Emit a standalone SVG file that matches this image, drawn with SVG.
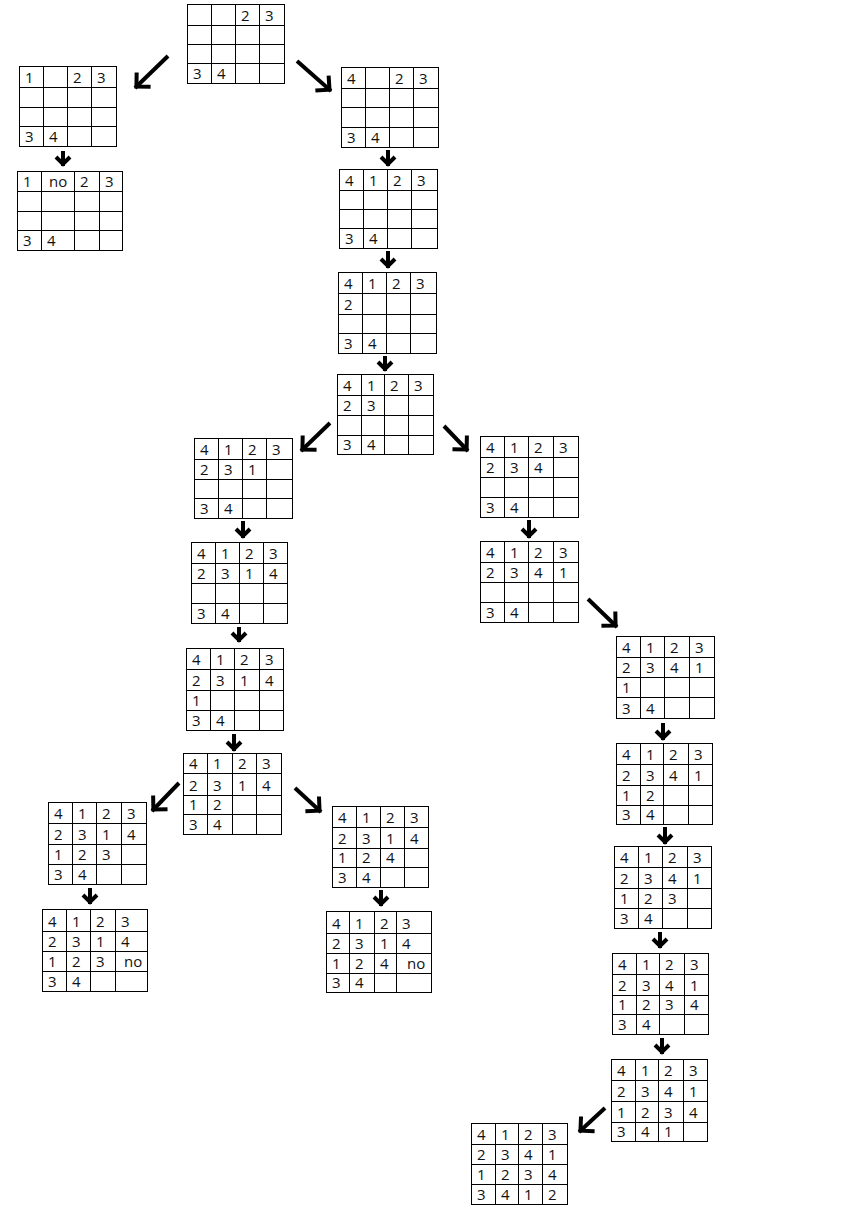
<svg xmlns="http://www.w3.org/2000/svg" width="844" height="1223" viewBox="0 0 844 1223">
<style>
.g rect,.g path{fill:none;stroke:#000;stroke-width:1;shape-rendering:crispEdges}
.g text{font-family:"Open Sans","DejaVu Sans",sans-serif;font-size:15px;fill:#111;transform:translateX(1px)}
.c line{stroke:#000;stroke-width:4}
</style>
<defs>
<marker id="hd" markerUnits="userSpaceOnUse" orient="auto" overflow="visible" refX="2" refY="0" markerWidth="24" markerHeight="24" viewBox="-14 -12 16 24">
<path d="M-10,-10 L0,0 L-10,10" fill="none" stroke="#000" stroke-width="4"/>
</marker>
<marker id="hs" markerUnits="userSpaceOnUse" orient="auto" overflow="visible" refX="2" refY="0" markerWidth="16" markerHeight="18" viewBox="-10 -9 12 18">
<path d="M-7,-7 L0,0 L-7,7" fill="none" stroke="#000" stroke-width="4"/>
</marker>
</defs>
<rect width="844" height="1223" fill="#fff"/>
<g id="connectors" class="c">
<line x1="168" y1="56" x2="135" y2="88" marker-end="url(#hd)"/>
<line x1="297" y1="61" x2="331" y2="91" marker-end="url(#hd)"/>
<line x1="63" y1="151" x2="63" y2="166" marker-end="url(#hs)"/>
<line x1="388" y1="150" x2="388" y2="166" marker-end="url(#hs)"/>
<line x1="388" y1="251" x2="388" y2="268" marker-end="url(#hs)"/>
<line x1="385" y1="356" x2="385" y2="371" marker-end="url(#hs)"/>
<line x1="330" y1="423" x2="301" y2="451" marker-end="url(#hd)"/>
<line x1="444" y1="426" x2="468" y2="451" marker-end="url(#hd)"/>
<line x1="243" y1="521" x2="243" y2="538" marker-end="url(#hs)"/>
<line x1="239" y1="627" x2="239" y2="642" marker-end="url(#hs)"/>
<line x1="234" y1="734" x2="234" y2="751" marker-end="url(#hs)"/>
<line x1="179" y1="783" x2="152" y2="811" marker-end="url(#hd)"/>
<line x1="295" y1="788" x2="321" y2="812" marker-end="url(#hd)"/>
<line x1="90" y1="888" x2="90" y2="904" marker-end="url(#hs)"/>
<line x1="381" y1="890" x2="381" y2="906" marker-end="url(#hs)"/>
<line x1="529" y1="520" x2="529" y2="538" marker-end="url(#hs)"/>
<line x1="588" y1="599" x2="617" y2="627" marker-end="url(#hd)"/>
<line x1="663" y1="723" x2="663" y2="740" marker-end="url(#hs)"/>
<line x1="665" y1="827" x2="665" y2="844" marker-end="url(#hs)"/>
<line x1="660" y1="932" x2="660" y2="948" marker-end="url(#hs)"/>
<line x1="662" y1="1038" x2="662" y2="1054" marker-end="url(#hs)"/>
<line x1="605" y1="1108" x2="579" y2="1132" marker-end="url(#hd)"/>
</g>

<g id="G0" class="g">
<rect x="187" y="4" width="97" height="79"/>
<path d="M211,4V83M235,4V83M259,4V83M187,25H284M187,44H284M187,63H284"/>
<text x="240" y="21">2</text><text x="264" y="21">3</text>
<text x="192" y="79">3</text><text x="216" y="79">4</text>
</g>

<g id="A1" class="g">
<rect x="19" y="66" width="97" height="80"/>
<path d="M43,66V146M67,66V146M91,66V146M19,87H116M19,107H116M19,126H116"/>
<text x="24" y="83">1</text><text x="72" y="83">2</text><text x="96" y="83">3</text>
<text x="24" y="142">3</text><text x="48" y="142">4</text>
</g>

<g id="A2" class="g">
<rect x="17" y="171" width="105" height="79"/>
<path d="M41,171V250M74,171V250M99,171V250M17,191H122M17,211H122M17,230H122"/>
<text x="22" y="187">1</text><text x="48" y="187">no</text><text x="79" y="187">2</text><text x="104" y="187">3</text>
<text x="22" y="246">3</text><text x="46" y="246">4</text>
</g>

<g id="B1" class="g">
<rect x="341" y="67" width="97" height="80"/>
<path d="M365,67V147M389,67V147M413,67V147M341,88H438M341,107H438M341,127H438"/>
<text x="346" y="84">4</text><text x="394" y="84">2</text><text x="418" y="84">3</text>
<text x="346" y="143">3</text><text x="370" y="143">4</text>
</g>

<g id="B2" class="g">
<rect x="339" y="169" width="98" height="79"/>
<path d="M363,169V248M387,169V248M411,169V248M339,190H437M339,209H437M339,228H437"/>
<text x="344" y="186">4</text><text x="368" y="186">1</text><text x="392" y="186">2</text><text x="416" y="186">3</text>
<text x="344" y="244">3</text><text x="368" y="244">4</text>
</g>

<g id="B3" class="g">
<rect x="338" y="272" width="98" height="81"/>
<path d="M362,272V353M386,272V353M410,272V353M338,293H436M338,314H436M338,333H436"/>
<text x="343" y="289">4</text><text x="367" y="289">1</text><text x="391" y="289">2</text><text x="415" y="289">3</text>
<text x="343" y="310">2</text>
<text x="343" y="349">3</text><text x="367" y="349">4</text>
</g>

<g id="B4" class="g">
<rect x="337" y="374" width="96" height="80"/>
<path d="M361,374V454M384,374V454M408,374V454M337,395H433M337,415H433M337,435H433"/>
<text x="342" y="391">4</text><text x="366" y="391">1</text><text x="389" y="391">2</text><text x="413" y="391">3</text>
<text x="342" y="411">2</text><text x="366" y="411">3</text>
<text x="342" y="450">3</text><text x="366" y="450">4</text>
</g>

<g id="C1" class="g">
<rect x="194" y="438" width="98" height="80"/>
<path d="M218,438V518M242,438V518M266,438V518M194,459H292M194,479H292M194,498H292"/>
<text x="199" y="455">4</text><text x="223" y="455">1</text><text x="247" y="455">2</text><text x="271" y="455">3</text>
<text x="199" y="475">2</text><text x="223" y="475">3</text><text x="247" y="475">1</text>
<text x="199" y="514">3</text><text x="223" y="514">4</text>
</g>

<g id="C2" class="g">
<rect x="191" y="542" width="96" height="81"/>
<path d="M215,542V623M239,542V623M263,542V623M191,563H287M191,583H287M191,603H287"/>
<text x="196" y="559">4</text><text x="220" y="559">1</text><text x="244" y="559">2</text><text x="268" y="559">3</text>
<text x="196" y="579">2</text><text x="220" y="579">3</text><text x="244" y="579">1</text><text x="268" y="579">4</text>
<text x="196" y="619">3</text><text x="220" y="619">4</text>
</g>

<g id="C3" class="g">
<rect x="186" y="648" width="97" height="82"/>
<path d="M210,648V730M234,648V730M259,648V730M186,669H283M186,690H283M186,710H283"/>
<text x="191" y="665">4</text><text x="215" y="665">1</text><text x="239" y="665">2</text><text x="264" y="665">3</text>
<text x="191" y="686">2</text><text x="215" y="686">3</text><text x="239" y="686">1</text><text x="264" y="686">4</text>
<text x="191" y="706">1</text>
<text x="191" y="726">3</text><text x="215" y="726">4</text>
</g>

<g id="C4" class="g">
<rect x="183" y="753" width="98" height="81"/>
<path d="M207,753V834M232,753V834M256,753V834M183,773H281M183,795H281M183,814H281"/>
<text x="188" y="769">4</text><text x="212" y="769">1</text><text x="237" y="769">2</text><text x="261" y="769">3</text>
<text x="188" y="791">2</text><text x="212" y="791">3</text><text x="237" y="791">1</text><text x="261" y="791">4</text>
<text x="188" y="810">1</text><text x="212" y="810">2</text>
<text x="188" y="830">3</text><text x="212" y="830">4</text>
</g>

<g id="C5" class="g">
<rect x="48" y="802" width="98" height="82"/>
<path d="M72,802V884M96,802V884M121,802V884M48,823H146M48,844H146M48,864H146"/>
<text x="53" y="819">4</text><text x="77" y="819">1</text><text x="101" y="819">2</text><text x="126" y="819">3</text>
<text x="53" y="840">2</text><text x="77" y="840">3</text><text x="101" y="840">1</text><text x="126" y="840">4</text>
<text x="53" y="860">1</text><text x="77" y="860">2</text><text x="101" y="860">3</text>
<text x="53" y="880">3</text><text x="77" y="880">4</text>
</g>

<g id="C6" class="g">
<rect x="42" y="909" width="105" height="82"/>
<path d="M66,909V991M90,909V991M115,909V991M42,931H147M42,951H147M42,971H147"/>
<text x="47" y="927">4</text><text x="71" y="927">1</text><text x="95" y="927">2</text><text x="120" y="927">3</text>
<text x="47" y="947">2</text><text x="71" y="947">3</text><text x="95" y="947">1</text><text x="120" y="947">4</text>
<text x="47" y="967">1</text><text x="71" y="967">2</text><text x="95" y="967">3</text><text x="123" y="967">no</text>
<text x="47" y="987">3</text><text x="71" y="987">4</text>
</g>

<g id="D1" class="g">
<rect x="332" y="806" width="96" height="81"/>
<path d="M356,806V887M380,806V887M404,806V887M332,827H428M332,848H428M332,867H428"/>
<text x="337" y="823">4</text><text x="361" y="823">1</text><text x="385" y="823">2</text><text x="409" y="823">3</text>
<text x="337" y="844">2</text><text x="361" y="844">3</text><text x="385" y="844">1</text><text x="409" y="844">4</text>
<text x="337" y="863">1</text><text x="361" y="863">2</text><text x="385" y="863">4</text>
<text x="337" y="883">3</text><text x="361" y="883">4</text>
</g>

<g id="D2" class="g">
<rect x="326" y="911" width="105" height="81"/>
<path d="M349,911V992M374,911V992M396,911V992M326,933H431M326,953H431M326,973H431"/>
<text x="331" y="929">4</text><text x="354" y="929">1</text><text x="379" y="929">2</text><text x="401" y="929">3</text>
<text x="331" y="949">2</text><text x="354" y="949">3</text><text x="379" y="949">1</text><text x="401" y="949">4</text>
<text x="331" y="969">1</text><text x="354" y="969">2</text><text x="379" y="969">4</text><text x="406" y="969">no</text>
<text x="331" y="988">3</text><text x="354" y="988">4</text>
</g>

<g id="E1" class="g">
<rect x="480" y="436" width="98" height="81"/>
<path d="M504,436V517M528,436V517M553,436V517M480,457H578M480,477H578M480,497H578"/>
<text x="485" y="453">4</text><text x="509" y="453">1</text><text x="533" y="453">2</text><text x="558" y="453">3</text>
<text x="485" y="473">2</text><text x="509" y="473">3</text><text x="533" y="473">4</text>
<text x="485" y="513">3</text><text x="509" y="513">4</text>
</g>

<g id="E2" class="g">
<rect x="480" y="541" width="98" height="81"/>
<path d="M504,541V622M528,541V622M553,541V622M480,562H578M480,582H578M480,602H578"/>
<text x="485" y="558">4</text><text x="509" y="558">1</text><text x="533" y="558">2</text><text x="558" y="558">3</text>
<text x="485" y="578">2</text><text x="509" y="578">3</text><text x="533" y="578">4</text><text x="558" y="578">1</text>
<text x="485" y="618">3</text><text x="509" y="618">4</text>
</g>

<g id="E3" class="g">
<rect x="616" y="636" width="98" height="82"/>
<path d="M640,636V718M664,636V718M689,636V718M616,657H714M616,677H714M616,697H714"/>
<text x="621" y="653">4</text><text x="645" y="653">1</text><text x="669" y="653">2</text><text x="694" y="653">3</text>
<text x="621" y="673">2</text><text x="645" y="673">3</text><text x="669" y="673">4</text><text x="694" y="673">1</text>
<text x="621" y="693">1</text>
<text x="621" y="714">3</text><text x="645" y="714">4</text>
</g>

<g id="E4" class="g">
<rect x="616" y="743" width="96" height="81"/>
<path d="M640,743V824M663,743V824M688,743V824M616,764H712M616,785H712M616,805H712"/>
<text x="621" y="760">4</text><text x="645" y="760">1</text><text x="668" y="760">2</text><text x="693" y="760">3</text>
<text x="621" y="781">2</text><text x="645" y="781">3</text><text x="668" y="781">4</text><text x="693" y="781">1</text>
<text x="621" y="801">1</text><text x="645" y="801">2</text>
<text x="621" y="820">3</text><text x="645" y="820">4</text>
</g>

<g id="E5" class="g">
<rect x="614" y="846" width="97" height="82"/>
<path d="M638,846V928M662,846V928M687,846V928M614,867H711M614,888H711M614,908H711"/>
<text x="619" y="863">4</text><text x="643" y="863">1</text><text x="667" y="863">2</text><text x="692" y="863">3</text>
<text x="619" y="884">2</text><text x="643" y="884">3</text><text x="667" y="884">4</text><text x="692" y="884">1</text>
<text x="619" y="904">1</text><text x="643" y="904">2</text><text x="667" y="904">3</text>
<text x="619" y="924">3</text><text x="643" y="924">4</text>
</g>

<g id="E6" class="g">
<rect x="612" y="953" width="96" height="81"/>
<path d="M636,953V1034M659,953V1034M684,953V1034M612,974H708M612,995H708M612,1014H708"/>
<text x="617" y="970">4</text><text x="641" y="970">1</text><text x="664" y="970">2</text><text x="689" y="970">3</text>
<text x="617" y="991">2</text><text x="641" y="991">3</text><text x="664" y="991">4</text><text x="689" y="991">1</text>
<text x="617" y="1010">1</text><text x="641" y="1010">2</text><text x="664" y="1010">3</text><text x="689" y="1010">4</text>
<text x="617" y="1030">3</text><text x="641" y="1030">4</text>
</g>

<g id="E7" class="g">
<rect x="611" y="1059" width="96" height="82"/>
<path d="M635,1059V1141M658,1059V1141M683,1059V1141M611,1080H707M611,1101H707M611,1122H707"/>
<text x="616" y="1076">4</text><text x="640" y="1076">1</text><text x="663" y="1076">2</text><text x="688" y="1076">3</text>
<text x="616" y="1097">2</text><text x="640" y="1097">3</text><text x="663" y="1097">4</text><text x="688" y="1097">1</text>
<text x="616" y="1118">1</text><text x="640" y="1118">2</text><text x="663" y="1118">3</text><text x="688" y="1118">4</text>
<text x="616" y="1137">3</text><text x="640" y="1137">4</text><text x="663" y="1137">1</text>
</g>

<g id="E8" class="g">
<rect x="471" y="1123" width="96" height="81"/>
<path d="M495,1123V1204M518,1123V1204M542,1123V1204M471,1144H567M471,1164H567M471,1184H567"/>
<text x="476" y="1140">4</text><text x="500" y="1140">1</text><text x="523" y="1140">2</text><text x="547" y="1140">3</text>
<text x="476" y="1160">2</text><text x="500" y="1160">3</text><text x="523" y="1160">4</text><text x="547" y="1160">1</text>
<text x="476" y="1180">1</text><text x="500" y="1180">2</text><text x="523" y="1180">3</text><text x="547" y="1180">4</text>
<text x="476" y="1200">3</text><text x="500" y="1200">4</text><text x="523" y="1200">1</text><text x="547" y="1200">2</text>
</g>
</svg>
